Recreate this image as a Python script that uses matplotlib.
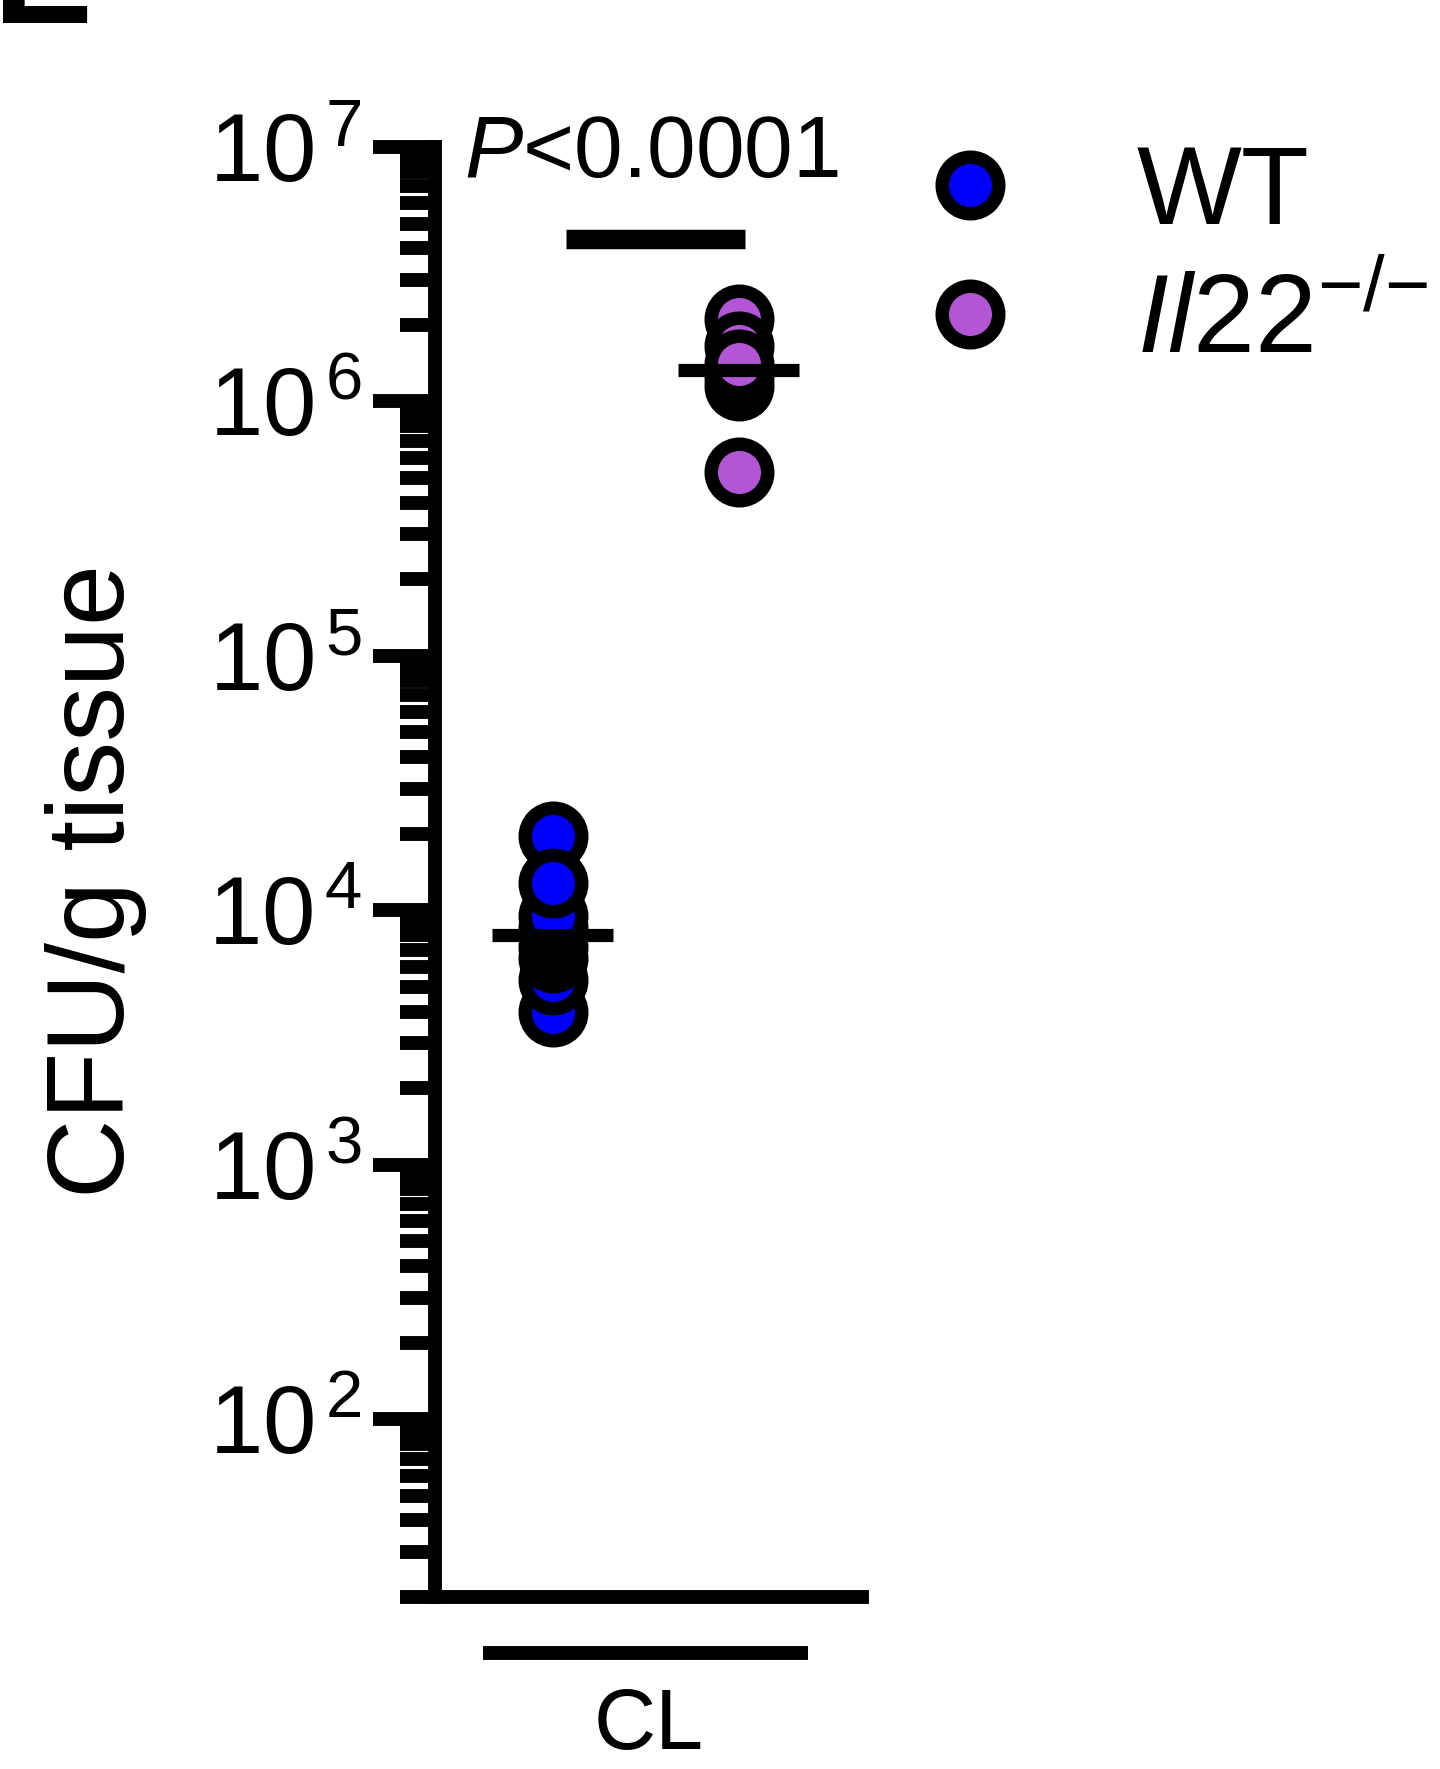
import numpy as np
import matplotlib
matplotlib.use('Agg')
import matplotlib.pyplot as plt
import matplotlib.transforms as mtransforms
from matplotlib.lines import Line2D
from matplotlib.ticker import LogLocator, FuncFormatter, NullFormatter

plt.rcParams['font.family'] = 'Liberation Sans'
plt.rcParams['mathtext.fontset'] = 'custom'
plt.rcParams['mathtext.rm'] = 'Liberation Sans'
plt.rcParams['mathtext.it'] = 'Liberation Sans:italic'
plt.rcParams['mathtext.bf'] = 'Liberation Sans:bold'

# datos (CFU/g de tejido, colon)
groups = ['WT', r'$\mathit{Il22}^{\mathrm{{-}/{-}}}$']
wt_cfu = [4000, 5300, 6500, 7200, 8000, 8500, 9500, 19600, 12800]
il22_cfu = [2100000, 1150000, 1650000, 1250000, 1400000, 530000]
colors = ['#0000ff', '#b356d6']
p_label = r'$\mathit{P}$<0.0001'
tissue = 'CL'

ms = 40.7
mew = 9.7

fig = plt.figure(figsize=(14.4, 17.69), dpi=100)
ax = fig.add_axes([0.3021, 0.0972, 0.2963, 0.8197])

for i, vals in enumerate([wt_cfu, il22_cfu]):
    ax.plot(np.full(len(vals), i), vals, 'o', ms=ms, mfc=colors[i], mec='k', mew=mew,
            ls='none', zorder=3, clip_on=False)
    ax.hlines(np.median(vals), i - 0.325, i + 0.325, colors='k', lw=9.5, zorder=4)

ax.set_yscale('log')
ax.set_ylim(20, 1e7)
ax.set_xlim(-0.634, 1.66)
ax.set_xticks([])

ax.yaxis.set_major_locator(LogLocator(base=10, numticks=20))
ax.yaxis.set_minor_locator(LogLocator(base=10, subs=np.arange(2, 10), numticks=20))
ax.yaxis.set_major_formatter(FuncFormatter(lambda v, _: r'$10^{\,%d}$' % round(np.log10(v))))
ax.yaxis.set_minor_formatter(NullFormatter())
ax.tick_params(axis='y', which='major', length=44.6, width=10, labelsize=69, pad=8)
ax.tick_params(axis='y', which='minor', length=25, width=10)

for s in ['top', 'right']:
    ax.spines[s].set_visible(False)
for s in ['left', 'bottom']:
    ax.spines[s].set_linewidth(10)
    ax.spines[s].set_capstyle('projecting')

# barra de significancia
sig_y = 4.35e6
ax.plot([0.07, 1.03], [sig_y, sig_y], color='k', lw=14, solid_capstyle='butt')
ax.text(0.532, 7.6e6, p_label, ha='center', va='baseline', fontsize=63)

# barra del tejido debajo del eje
trans = mtransforms.blended_transform_factory(ax.transData, ax.transAxes)
ax.plot([-0.376, 1.371], [-0.0386, -0.0386], color='k', lw=10, transform=trans,
        clip_on=False, solid_capstyle='butt')
ax.text(0.516, -0.105, tissue, ha='center', va='baseline', fontsize=62, transform=trans)

fig.text(124 / 1440, 0.502, 'CFU/g tissue', rotation=90, rotation_mode='anchor',
         ha='center', va='baseline', fontsize=79)

handles = [Line2D([], [], marker='o', ls='none', ms=ms, mfc=c, mec='k', mew=mew) for c in colors]
ax.legend(handles, groups, loc='upper left', bbox_to_anchor=(0.635, 0.919),
          bbox_transform=fig.transFigure, frameon=False, fontsize=80,
          handlelength=1.0, handletextpad=1.0, labelspacing=0.22,
          borderpad=0, borderaxespad=0, numpoints=1)

# letra del panel, cortada arriba
fig.text(-0.005, 1 - 23 / 1769, 'E', fontsize=108, fontweight='bold', ha='left', va='baseline')

fig.savefig('out.png', dpi=100)
